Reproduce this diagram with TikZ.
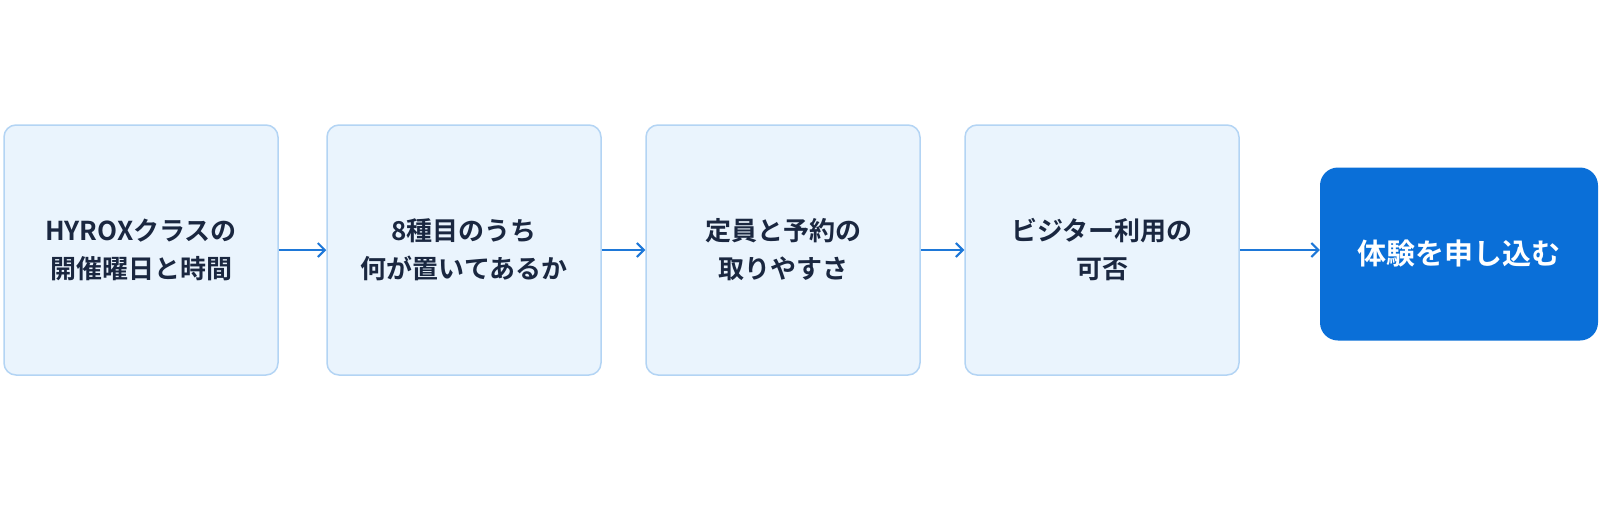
\documentclass[tikz,border=0pt]{standalone}
\usepackage{fontspec}
\setmainfont{Noto Sans CJK JP}[BoldFont={Noto Sans CJK JP Bold}]
\usetikzlibrary{arrows.meta}
\definecolor{bfill}{HTML}{EAF4FD}
\definecolor{bdraw}{HTML}{B3D4F4}
\definecolor{tcol}{HTML}{1A2740}
\definecolor{acol}{HTML}{1E78D8}
\definecolor{gfill}{HTML}{0A6FD8}
\begin{document}
\begin{tikzpicture}[x=1pt,y=-1pt,
  box/.style={draw=bdraw,line width=1.5pt,fill=bfill,rounded corners=12pt,minimum width=274pt,minimum height=250pt,align=center,text=tcol,font=\fontsize{26}{38}\selectfont\bfseries},
  goal/.style={fill=gfill,rounded corners=18pt,minimum width=278pt,minimum height=173pt,text=white,font=\fontsize{29}{38}\selectfont\bfseries},
  arr/.style={draw=acol,line width=2pt,-{Straight Barb[length=7pt,width=14pt,line width=2pt]}}]
\useasboundingbox[fill=white] (0,0) rectangle (1600,509);
\node[box] (a) at (141,250) {HYROXクラスの\\開催曜日と時間};
\node[box] (b) at (464,250) {8種目のうち\\何が置いてあるか};
\node[box] (c) at (783,250) {定員と予約の\\取りやすさ};
\node[box] (d) at (1102,250) {ビジター利用の\\可否};
\node[goal] (e) at (1459,254) {体験を申し込む};
\draw[arr] (a) -- (b);
\draw[arr] (b) -- (c);
\draw[arr] (c) -- (d);
\draw[arr] (d.east) -- (e.west|-d.east);
\end{tikzpicture}
\end{document}
